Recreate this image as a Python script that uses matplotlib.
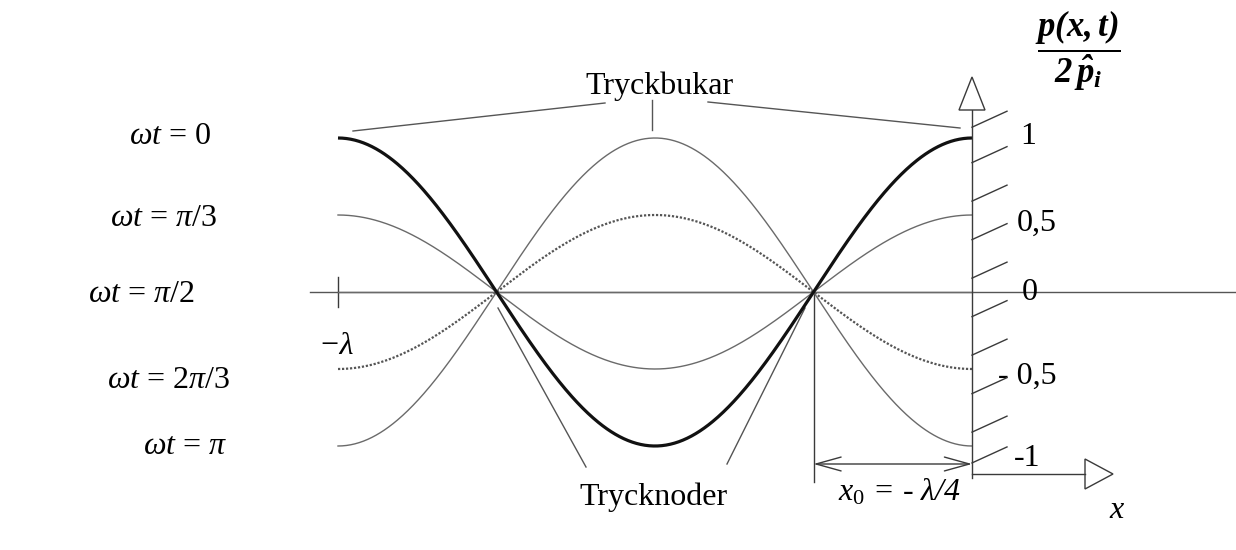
import numpy as np
import matplotlib
matplotlib.use("Agg")
import matplotlib.pyplot as plt
from matplotlib.patches import Polygon

plt.rcParams["font.family"] = ["Liberation Serif", "DejaVu Serif"]
plt.rcParams["mathtext.fontset"] = "custom"
plt.rcParams["mathtext.rm"] = "Liberation Serif"
plt.rcParams["mathtext.it"] = "Liberation Serif:italic"
plt.rcParams["mathtext.bf"] = "Liberation Serif:italic:bold"

# Phases of the standing wave shown, and their labels
phase_labels = [r"$\omega t$ = 0", r"$\omega t$ = $\pi$/3", r"$\omega t$ = $\pi$/2",
                r"$\omega t$ = 2$\pi$/3", r"$\omega t$ = $\pi$"]
phases = [0.0, np.pi / 3, np.pi / 2, 2 * np.pi / 3, np.pi]
phase_styles = ["thick", "thin", "thin", "dotted", "thin"]

# Vertical scale ticks
tick_values = [1.0, 0.5, 0.0, -0.5, -1.0]
tick_labels = ["1", "0,5", "0", "- 0,5", "-1"]

# Position along the tube in wavelengths, from -λ to the closed end at 0
x = np.linspace(-1.0, 0.0, 600)

W, H = 1236, 550
fig = plt.figure(figsize=(W / 100, H / 100), dpi=100)
ax = fig.add_axes([0, 0, 1, 1])

# pixel anchors: x=-λ at 338 px, x=0 at 972 px; p=0 at 292 px, 154 px per unit
X0PX, XSC = 972.0, 634.0
Y0PX, YSC = 292.0, 154.0
ax.set_xlim(-X0PX / XSC, (W - X0PX) / XSC)
ax.set_ylim(-(H - Y0PX) / YSC, Y0PX / YSC)
ax.axis("off")


def P(xp, yp):
    return (xp - X0PX) / XSC, (Y0PX - yp) / YSC


ink = "#3a3a3a"

# standing-wave curves p/2p̂ = cos(2πx/λ)·cos(ωt)
for ph, st in zip(phases, phase_styles):
    y = np.cos(2 * np.pi * x) * np.cos(ph)
    if st == "thick":
        ax.plot(x, y, color="#111111", lw=2.3, solid_capstyle="butt", zorder=4)
    elif st == "dotted":
        ax.plot(x, y, color="#555555", lw=1.6, ls=(0, (1, 0.8)), zorder=3)
    else:
        ax.plot(x, y, color="#6a6a6a", lw=1.0, zorder=3)

# horizontal axis through p = 0
ax.plot([P(310, 0)[0], P(W, 0)[0]], [0, 0], color="#555555", lw=1.0, zorder=2)
# tick at -λ
ax.plot([-1, -1], [-0.1, 0.1], color=ink, lw=1.0)
ax.text(*P(336, 347), "−λ", fontsize=23, style="italic", ha="center", va="center")

# vertical axis at x = 0 with open arrow head
ytop_base = P(0, 110)[1]
ax.plot([0, 0], [P(0, 478)[1], ytop_base], color=ink, lw=1.0, zorder=5)
ax.add_patch(Polygon([P(959, 110), P(985, 110), P(972, 77)], closed=True,
                     facecolor="white", edgecolor=ink, lw=1.0, zorder=5))

# hatching of the closed end
hatch_y = [1.07, 0.84, 0.59, 0.34, 0.09, -0.16, -0.41, -0.66, -0.91, -1.11]
for hy in hatch_y:
    ax.plot([0, 35 / XSC], [hy, hy + 16 / YSC], color=ink, lw=1.0, zorder=5)

# tick labels on the right of the wall
label_px = [(1020, 137), (1017, 223), (1022, 293), (998, 376), (1014, 458)]
for (lx, ly), lab in zip(label_px, tick_labels):
    ax.text(*P(lx, ly), lab, fontsize=23, ha="left", va="center")

# lower x axis with open arrow head
ylow = P(0, 474)[1]
ax.plot([0, P(1085, 0)[0]], [ylow, ylow], color=ink, lw=1.0)
ax.add_patch(Polygon([P(1085, 459), P(1085, 489), P(1113, 474)], closed=True,
                     facecolor="white", edgecolor=ink, lw=1.0))
ax.text(*P(1117, 510), "x", fontsize=23, style="italic", ha="center", va="center")

# dimension x0 = -λ/4
xn = -0.25
ax.plot([xn, xn], [0, P(0, 482)[1]], color=ink, lw=1.0)
ydim = P(0, 464)[1]
ax.annotate("", xy=(xn, ydim), xytext=(0, ydim),
            arrowprops=dict(arrowstyle="<->,head_length=1.8,head_width=0.5",
                            lw=1.0, color=ink, shrinkA=0, shrinkB=0,
                            mutation_scale=10))
ax.text(*P(899, 492), "$x_0$ = - λ/4", fontsize=23, style="italic",
        ha="center", va="center")

# phase labels on the left
phase_label_px = [(170, 137), (164, 218), (141, 295), (169, 380), (185, 446)]
for (lx, ly), lab in zip(phase_label_px, phase_labels):
    ax.text(*P(lx, ly), lab, fontsize=23, ha="center", va="center")

# pressure antinodes
ax.text(*P(659, 86), "Tryckbukar", fontsize=23, ha="center", va="center")
for (a, b) in [((353, 131), (605, 103)), ((652, 100), (652, 130)), ((708, 102), (960, 128))]:
    (xa, ya), (xb, yb) = P(*a), P(*b)
    ax.plot([xa, xb], [ya, yb], color="#555555", lw=1.0)

# pressure nodes
ax.text(*P(653, 497), "Trycknoder", fontsize=23, ha="center", va="center")
for (a, b) in [((498, 308), (586, 467)), ((805, 308), (727, 464))]:
    (xa, ya), (xb, yb) = P(*a), P(*b)
    ax.plot([xa, xb], [ya, yb], color="#555555", lw=1.0)

# axis label
ax.text(*P(1078, 51), r"$\mathbf{\dfrac{p(x,t)}{2\,\hat{p}_i}}$", fontsize=25,
        ha="center", va="center")

fig.savefig("out.png", dpi=100, facecolor="white")
